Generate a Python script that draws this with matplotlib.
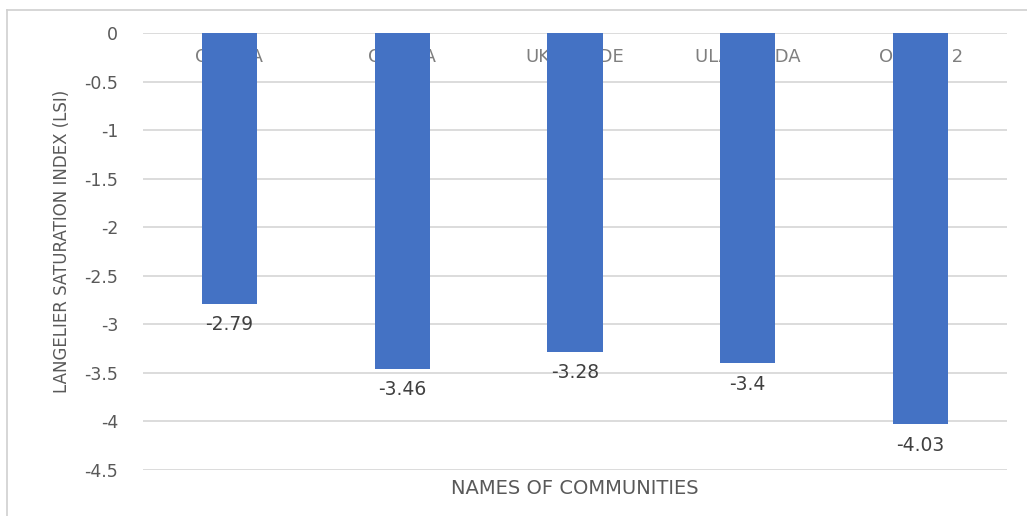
import matplotlib
matplotlib.use("Agg")
import matplotlib.pyplot as plt
from matplotlib.lines import Line2D

communities = ["OSHIKA", "OGODA", "UKPELIEDE", "ULA EHUDA", "OKOMA 2"]
lsi_values = [-2.79, -3.46, -3.28, -3.4, -4.03]
y_ticks = [0, -0.5, -1, -1.5, -2, -2.5, -3, -3.5, -4, -4.5]
y_tick_labels = ["0", "-0.5", "-1", "-1.5", "-2", "-2.5", "-3", "-3.5", "-4", "-4.5"]

plt.rcParams["font.family"] = ["DejaVu Sans"]
text_gray = "#595959"
bar_blue = "#4472C4"
grid_gray = "#D9D9D9"

W, H = 1027, 516
fig = plt.figure(figsize=(W / 100, H / 100), dpi=100)
ax = fig.add_axes([143 / W, 1 - 470 / H, (1007 - 143) / W, (470 - 33) / H])

x = list(range(len(communities)))
ax.bar(x, lsi_values, width=0.32, color=bar_blue, zorder=3)

ax.set_xlim(-0.5, len(communities) - 0.5)
ax.set_ylim(-4.5, 0)
ax.set_yticks(y_ticks)
ax.set_yticklabels(y_tick_labels, color=text_gray, fontsize=12.5)
ax.tick_params(axis="y", length=0, pad=18)
ax.set_xticks([])
ax.grid(axis="y", color=grid_gray, linewidth=1.3, zorder=0)
for s in ax.spines.values():
    s.set_visible(False)

# Category names sit along the top, partly behind the bars
for xi, name in zip(x, communities):
    ax.text(xi, -0.25, name, ha="center", va="center", color="#7F7F7F",
            fontsize=13, zorder=2)

# Value labels below each bar end
for xi, v in zip(x, lsi_values):
    ax.annotate(f"{v:g}", (xi, v), xytext=(0, -15), textcoords="offset points",
                ha="center", va="center", color="#404040", fontsize=13.5)

fig.text(62 / W, 1 - 241 / H, "LANGELIER SATURATION INDEX (LSI)", rotation=90,
         ha="center", va="center", color=text_gray, fontsize=12)
fig.text(575 / W, 1 - 488 / H, "NAMES OF COMMUNITIES", ha="center", va="center",
         color=text_gray, fontsize=14)

# Light frame around the chart area
fig.add_artist(Line2D([7 / W, 7 / W], [0, 1 - 10 / H], color="#D0D0D0", lw=1.2,
                      transform=fig.transFigure))
fig.add_artist(Line2D([7 / W, 1], [1 - 10 / H, 1 - 10 / H], color="#D0D0D0", lw=1.2,
                      transform=fig.transFigure))

fig.savefig("out.png", dpi=100)
